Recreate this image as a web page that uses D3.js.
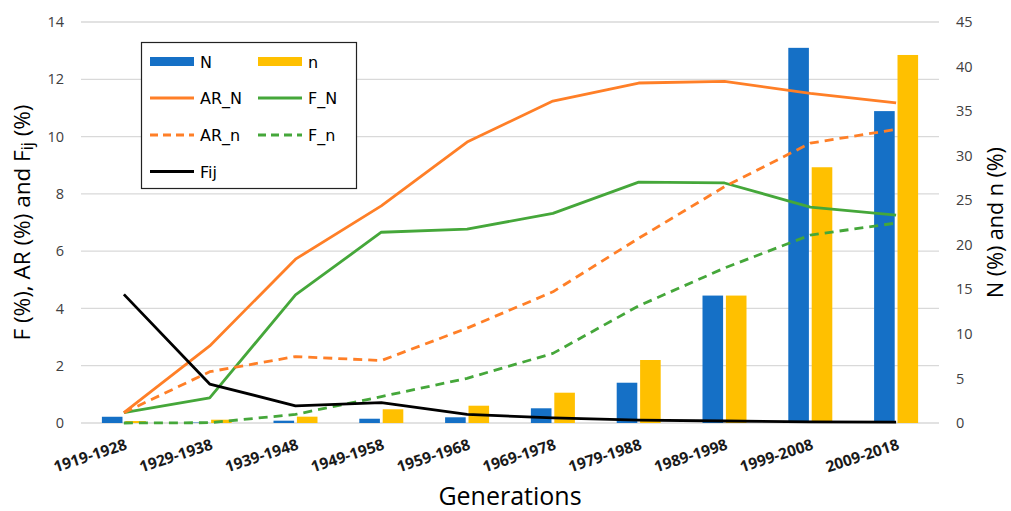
<!DOCTYPE html>
<html>
<head>
<meta charset="utf-8">
<script src="https://cdn.jsdelivr.net/npm/d3@7"></script>
<style>
  html, body { margin: 0; padding: 0; background: #fff; }
  svg { display: block; }
</style>
</head>
<body>
<svg id="chart" width="1011" height="511"></svg>
<script>
// Generations on the x axis
const categories = ["1919-1928", "1929-1938", "1939-1948", "1949-1958", "1959-1968",
                    "1969-1978", "1979-1988", "1989-1998", "1999-2008", "2009-2018"];

// Bar series (right axis, %)
const N = [0.7, 0.05, 0.26, 0.48, 0.64, 1.65, 4.52, 14.3, 42.1, 35.0];
const n = [0.22, 0.37, 0.71, 1.54, 1.94, 3.4, 7.07, 14.3, 28.7, 41.3];

// Line series (left axis, %)
const AR_N = [0.36, 2.69, 5.72, 7.58, 9.81, 11.24, 11.87, 11.93, 11.51, 11.18];
const F_N  = [0.36, 0.88, 4.47, 6.66, 6.77, 7.32, 8.41, 8.38, 7.54, 7.26];
const AR_n = [0.36, 1.79, 2.32, 2.18, 3.31, 4.58, 6.45, 8.25, 9.77, 10.25];
const F_n  = [0.0, 0.01, 0.3, 0.92, 1.56, 2.43, 4.09, 5.41, 6.56, 6.98];
const Fij  = [4.49, 1.36, 0.6, 0.71, 0.3, 0.18, 0.1, 0.07, 0.04, 0.03];

// Tick labels
const leftTicks  = [0, 2, 4, 6, 8, 10, 12, 14];
const rightTicks = [0, 5, 10, 15, 20, 25, 30, 35, 40, 45];

const colors = {
  N: "#1570c6", n: "#ffc000",
  AR: "#ff7f27", F: "#45a73a", Fij: "#000000"
};

const svg = d3.select("#chart");
const plot = { left: 81, right: 939, top: 22, bottom: 423 };

const x = d3.scaleBand().domain(categories).range([plot.left, plot.right]);
const cx = c => x(c) + x.bandwidth() / 2;
const yL = d3.scaleLinear().domain([0, 14]).range([plot.bottom, plot.top]);
const yR = d3.scaleLinear().domain([0, 45]).range([plot.bottom, plot.top]);
const inner = d3.scaleBand().domain(["N", "n"]).range([-22, 22]).paddingInner(0.12);

// Horizontal gridlines
svg.append("g")
  .selectAll("line")
  .data(leftTicks)
  .join("line")
  .attr("x1", plot.left).attr("x2", plot.right)
  .attr("y1", d => yL(d)).attr("y2", d => yL(d))
  .attr("stroke", "#d9d9d9").attr("stroke-width", 1.3);

// Left axis
const axL = svg.append("g")
  .attr("transform", `translate(${plot.left - 17},0)`)
  .call(d3.axisLeft(yL).tickValues(leftTicks).tickSize(0).tickPadding(0));
axL.select(".domain").remove();
axL.selectAll("text")
  .attr("font-family", "Open Sans").attr("font-size", 14.5).attr("fill", "#404040");

// Right axis
const axR = svg.append("g")
  .attr("transform", `translate(${plot.right + 17},0)`)
  .call(d3.axisRight(yR).tickValues(rightTicks).tickSize(0).tickPadding(0));
axR.select(".domain").remove();
axR.selectAll("text")
  .attr("font-family", "Open Sans").attr("font-size", 14.5).attr("fill", "#404040");

// Bars
const barData = categories.flatMap((c, i) => [
  { c, key: "N", v: N[i] },
  { c, key: "n", v: n[i] }
]);
svg.append("g")
  .selectAll("rect")
  .data(barData)
  .join("rect")
  .attr("x", d => cx(d.c) + inner(d.key))
  .attr("width", inner.bandwidth())
  .attr("y", d => yR(d.v))
  .attr("height", d => yR(0) - yR(d.v))
  .attr("fill", d => colors[d.key]);

// Lines
const line = d3.line().x((d, i) => cx(categories[i])).y(d => yL(d));
const series = [
  { values: AR_N, color: colors.AR, dash: null },
  { values: F_N,  color: colors.F,  dash: null },
  { values: AR_n, color: colors.AR, dash: "9,6" },
  { values: F_n,  color: colors.F,  dash: "9,6" },
  { values: Fij,  color: colors.Fij, dash: null }
];
svg.append("g")
  .selectAll("path")
  .data(series)
  .join("path")
  .attr("d", d => line(d.values))
  .attr("fill", "none")
  .attr("stroke", d => d.color)
  .attr("stroke-width", 2.8)
  .attr("stroke-linejoin", "round")
  .attr("stroke-dasharray", d => d.dash);

// X axis category labels
svg.append("g")
  .selectAll("text")
  .data(categories)
  .join("text")
  .attr("transform", d => `translate(${cx(d) + 4},449) rotate(-18)`)
  .attr("text-anchor", "end")
  .attr("font-family", "Open Sans")
  .attr("font-weight", "bold")
  .attr("font-size", 15.5)
  .attr("fill", "#1a1a1a")
  .text(d => d);

// Axis titles
svg.append("text")
  .attr("x", 510).attr("y", 505)
  .attr("text-anchor", "middle")
  .attr("font-family", "Open Sans").attr("font-size", 25)
  .attr("fill", "#000")
  .text("Generations");

const leftTitle = svg.append("text")
  .attr("transform", `translate(30,${(plot.top + plot.bottom) / 2}) rotate(-90)`)
  .attr("text-anchor", "middle")
  .attr("font-family", "Open Sans").attr("font-size", 22.5)
  .attr("fill", "#000");
leftTitle.append("tspan").text("F (%), AR (%) and F");
leftTitle.append("tspan").attr("font-size", 16).attr("dy", 3).text("ij");
leftTitle.append("tspan").attr("dy", -3).text(" (%)");

svg.append("text")
  .attr("transform", `translate(1003,${(plot.top + plot.bottom) / 2}) rotate(-90)`)
  .attr("text-anchor", "middle")
  .attr("font-family", "Open Sans").attr("font-size", 21.5)
  .attr("fill", "#000")
  .text("N (%) and n (%)");

// Legend
const legend = svg.append("g");
legend.append("rect")
  .attr("x", 141.5).attr("y", 42.5)
  .attr("width", 215).attr("height", 146)
  .attr("fill", "#fff").attr("stroke", "#222").attr("stroke-width", 1.2);

const legendItems = [
  { label: "N",    type: "bar",  color: colors.N,   col: 0, row: 0 },
  { label: "n",    type: "bar",  color: colors.n,   col: 1, row: 0 },
  { label: "AR_N", type: "line", color: colors.AR,  col: 0, row: 1 },
  { label: "F_N",  type: "line", color: colors.F,   col: 1, row: 1 },
  { label: "AR_n", type: "line", color: colors.AR,  col: 0, row: 2, dash: "8,5" },
  { label: "F_n",  type: "line", color: colors.F,   col: 1, row: 2, dash: "8,5" },
  { label: "Fij",  type: "line", color: colors.Fij, col: 0, row: 3 }
];
const colX = [150, 258];
const rowY = [61.5, 98, 135, 171.5];
const li = legend.selectAll("g.item")
  .data(legendItems)
  .join("g")
  .attr("transform", d => `translate(${colX[d.col]},${rowY[d.row]})`);
li.filter(d => d.type === "bar").append("rect")
  .attr("x", 0).attr("y", -4.5).attr("width", 44).attr("height", 9)
  .attr("fill", d => d.color);
li.filter(d => d.type === "line").append("line")
  .attr("x1", 0).attr("x2", 44).attr("y1", 0).attr("y2", 0)
  .attr("stroke", d => d.color).attr("stroke-width", 3)
  .attr("stroke-dasharray", d => d.dash || null);
li.append("text")
  .attr("x", 50).attr("y", 6)
  .attr("font-family", "DejaVu Sans").attr("font-size", 16)
  .attr("fill", "#000")
  .text(d => d.label);
</script>
</body>
</html>
